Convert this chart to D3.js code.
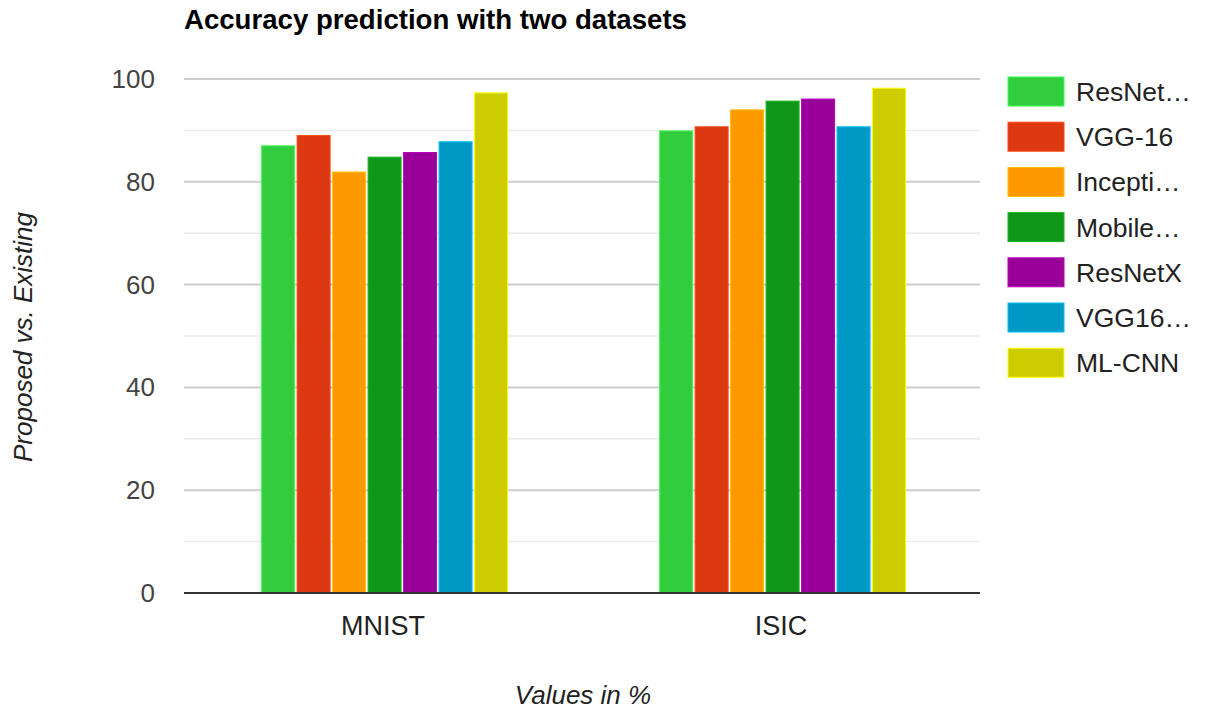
<!DOCTYPE html>
<html>
<head>
<meta charset="utf-8">
<title>Accuracy prediction</title>
<script src="https://d3js.org/d3.v7.min.js"></script>
<style>
  body { margin: 0; background: #fff; }
  svg text { font-family: Arial, "Liberation Sans", sans-serif; }
</style>
</head>
<body>
<script>
var datasets = ["MNIST", "ISIC"];
var models = ["ResNet…", "VGG-16", "Incepti…", "Mobile…", "ResNetX", "VGG16…", "ML-CNN"];
var mnist = [87.0, 89.0, 81.9, 84.8, 85.7, 87.8, 97.3];
var isic = [89.9, 90.7, 94.0, 95.7, 96.1, 90.7, 98.2];
var colors = ["#33cc3f", "#dc3912", "#ff9900", "#109618", "#990099", "#0099c6", "#cccc00"];
var yTicks = [0, 20, 40, 60, 80, 100];

var width = 1207, height = 713;
var plotLeft = 184, plotRight = 980, plotTop = 79, plotBottom = 593;

var svg = d3.select("body").append("svg")
    .attr("width", width)
    .attr("height", height);

var y = d3.scaleLinear().domain([0, 100]).range([plotBottom, plotTop]);
var x0 = d3.scaleBand().domain(datasets).range([plotLeft, plotRight]);
var x1 = d3.scaleBand().domain(models)
    .range([0, x0.bandwidth() * 0.618]).paddingInner(0.07);

var rows = datasets.map(function (d, i) {
  return { name: d, values: i === 0 ? mnist : isic };
});

// minor gridlines
svg.append("g").selectAll("line")
    .data(d3.range(10, 100, 20))
    .enter().append("line")
    .attr("x1", plotLeft).attr("x2", plotRight)
    .attr("y1", function (d) { return y(d); })
    .attr("y2", function (d) { return y(d); })
    .attr("stroke", "#ebebeb").attr("stroke-width", 1.5);

// major gridlines
svg.append("g").selectAll("line")
    .data(yTicks.slice(1))
    .enter().append("line")
    .attr("x1", plotLeft).attr("x2", plotRight)
    .attr("y1", function (d) { return y(d); })
    .attr("y2", function (d) { return y(d); })
    .attr("stroke", "#cccccc").attr("stroke-width", 2);

// y tick labels
svg.append("g").selectAll("text")
    .data(yTicks)
    .enter().append("text")
    .attr("x", 155)
    .attr("y", function (d) { return y(d) + 9; })
    .attr("text-anchor", "end")
    .attr("font-size", 26)
    .attr("fill", "#444")
    .text(function (d) { return d; });

// bars
var groups = svg.append("g").selectAll("g")
    .data(rows)
    .enter().append("g")
    .attr("transform", function (d) {
      return "translate(" + (x0(d.name) + x0.bandwidth() * 0.195) + ",0)";
    });

groups.selectAll("rect")
    .data(function (d) { return d.values; })
    .enter().append("rect")
    .attr("x", function (d, i) { return x1(models[i]); })
    .attr("y", function (d) { return y(d); })
    .attr("width", x1.bandwidth())
    .attr("height", function (d) { return plotBottom - y(d); })
    .attr("fill", function (d, i) { return colors[i]; })
    .attr("stroke", function (d, i) { return d3.color(colors[i]).brighter(0.6); })
    .attr("stroke-width", 1);

// baseline
svg.append("line")
    .attr("x1", plotLeft).attr("x2", plotRight)
    .attr("y1", plotBottom).attr("y2", plotBottom)
    .attr("stroke", "#333").attr("stroke-width", 2);

// category labels
svg.append("g").selectAll("text")
    .data(datasets)
    .enter().append("text")
    .attr("x", function (d) { return x0(d) + x0.bandwidth() / 2; })
    .attr("y", 635)
    .attr("text-anchor", "middle")
    .attr("font-size", 27)
    .attr("fill", "#222")
    .text(function (d) { return d; });

// title
svg.append("text")
    .attr("x", plotLeft).attr("y", 29)
    .attr("font-size", 27.6)
    .attr("font-weight", "bold")
    .attr("fill", "#000")
    .text("Accuracy prediction with two datasets");

// axis titles
svg.append("text")
    .attr("x", 583).attr("y", 704)
    .attr("text-anchor", "middle")
    .attr("font-size", 26)
    .attr("font-style", "italic")
    .attr("fill", "#222")
    .text("Values in %");

svg.append("text")
    .attr("transform", "translate(32,337) rotate(-90)")
    .attr("text-anchor", "middle")
    .attr("font-size", 26)
    .attr("font-style", "italic")
    .attr("fill", "#222")
    .text("Proposed vs. Existing");

// legend
var legend = svg.append("g").selectAll("g")
    .data(models)
    .enter().append("g")
    .attr("transform", function (d, i) { return "translate(1008," + (77 + i * 45.2) + ")"; });

legend.append("rect")
    .attr("width", 56).attr("height", 29)
    .attr("fill", function (d, i) { return colors[i]; })
    .attr("stroke", function (d, i) { return d3.color(colors[i]).brighter(0.6); });

legend.append("text")
    .attr("x", 68).attr("y", 24)
    .attr("font-size", 26.5)
    .attr("fill", "#222")
    .text(function (d) { return d; });
</script>
</body>
</html>
